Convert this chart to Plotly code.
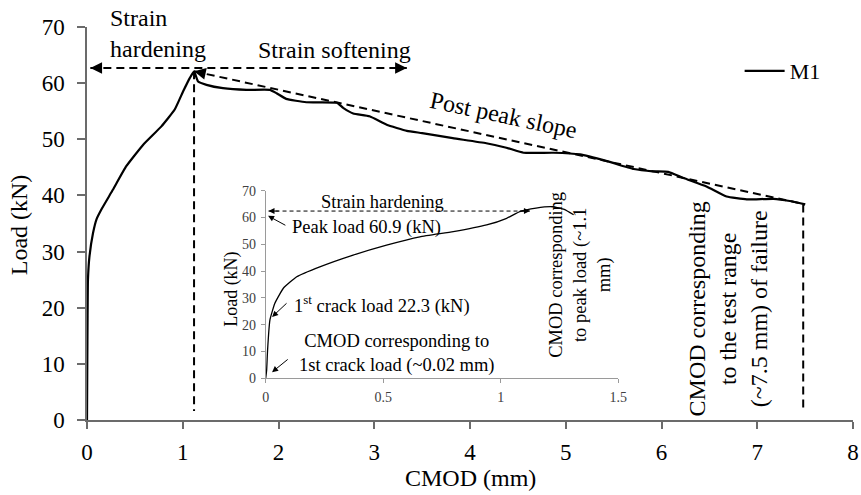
import plotly.graph_objects as go

# ---------------- data ----------------
cmod = [0, 0.003, 0.006, 0.01, 0.025, 0.063, 0.1, 0.15, 0.27, 0.41, 0.585, 0.777, 0.916,
        1.003, 1.073, 1.118, 1.16, 1.248, 1.42, 1.666, 1.909, 1.98, 2.08, 2.29, 2.61,
        2.675, 2.78, 2.95, 3.13, 3.34, 3.5, 3.82, 4.17, 4.38, 4.56, 4.87, 5.15, 5.43,
        5.71, 5.91, 6.07, 6.23, 6.47, 6.68, 6.89, 7.17, 7.34, 7.50]
load = [0, 10, 18, 25, 29, 33.3, 35.8, 37.5, 41.0, 45.2, 49.0, 52.3, 55.3,
        58.5, 60.9, 62.1, 60.3, 59.7, 59.1, 58.8, 58.8, 58.2, 57.2, 56.6, 56.5,
        55.6, 54.6, 54.1, 52.6, 51.5, 51.1, 50.2, 49.3, 48.5, 47.6, 47.6, 47.3, 46.1,
        44.7, 44.3, 44.2, 43.1, 41.6, 39.8, 39.3, 39.4, 39.0, 38.4]

inset_cmod = [0, 0.004, 0.008, 0.018, 0.039, 0.075, 0.132, 0.23, 0.372, 0.514, 0.656,
              0.798, 0.94, 1.025, 1.081, 1.15, 1.22, 1.27, 1.31]
inset_load = [0, 3, 10.6, 21.8, 28, 33.6, 37.9, 41.6, 46, 49.7, 52.8,
              54.7, 57.2, 59.7, 62.2, 63.5, 64.0, 63.0, 61.0]

x_ticks = [0, 1, 2, 3, 4, 5, 6, 7, 8]
y_ticks = [0, 10, 20, 30, 40, 50, 60, 70]
inset_x_ticks = [0, 0.5, 1, 1.5]
inset_x_labels = ["0", "0.5", "1", "1.5"]
inset_y_ticks = [0, 10, 20, 30, 40, 50, 60, 70]

peak_cmod, peak_load = 1.118, 62.1
end_cmod, end_load = 7.5, 38.4
fail_cmod = 7.48
arrow_load = 62.7
arrow_left, arrow_right = 0.035, 3.34
inset_arrow_load = 62.4
inset_arrow_left, inset_arrow_right = 0.012, 1.124

SERIF = "Liberation Serif, Times New Roman, serif"
AX = "#6b6b6b"
INAX = "#9a9a9a"

fig = go.Figure()

fig.add_trace(go.Scatter(x=cmod, y=load, mode="lines", name="M1",
                         line=dict(color="black", width=2.2, shape="spline", smoothing=0.4)))
fig.add_trace(go.Scatter(x=inset_cmod, y=inset_load, mode="lines", xaxis="x2", yaxis="y2",
                         showlegend=False,
                         line=dict(color="black", width=1.3, shape="spline", smoothing=0.4)))

dash_main = dict(color="black", width=2, dash="8px,5px")
# post-peak slope
fig.add_trace(go.Scatter(x=[peak_cmod, end_cmod], y=[peak_load, end_load], mode="lines",
                         line=dash_main, showlegend=False, hoverinfo="skip"))
# vertical dashed at peak
fig.add_trace(go.Scatter(x=[peak_cmod, peak_cmod], y=[peak_load, 1.6], mode="lines",
                         line=dash_main, showlegend=False, hoverinfo="skip"))
# vertical dashed at failure
fig.add_trace(go.Scatter(x=[fail_cmod, fail_cmod], y=[end_load, 1.5], mode="lines",
                         line=dash_main, showlegend=False, hoverinfo="skip"))
# horizontal arrow line
fig.add_trace(go.Scatter(x=[arrow_left, arrow_right], y=[arrow_load, arrow_load], mode="lines",
                         line=dash_main, showlegend=False, hoverinfo="skip"))
# inset dashed arrow line
fig.add_trace(go.Scatter(x=[inset_arrow_left, inset_arrow_right],
                         y=[inset_arrow_load, inset_arrow_load], mode="lines",
                         xaxis="x2", yaxis="y2",
                         line=dict(color="black", width=1, dash="4px,3px"),
                         showlegend=False, hoverinfo="skip"))

ann = []


def head(x, y, ax, ay, xr="x", yr="y", w=1.8, s=1.3):
    ann.append(dict(x=x, y=y, ax=ax, ay=ay, xref=xr, yref=yr, axref=xr, ayref=yr,
                    text="", showarrow=True, arrowhead=2, arrowsize=s, arrowwidth=w,
                    arrowcolor="black", standoff=0, startstandoff=0))


head(arrow_left, arrow_load, arrow_left + 0.12, arrow_load)
head(arrow_right, arrow_load, arrow_right - 0.12, arrow_load)
slope = (end_load - peak_load) / (end_cmod - peak_cmod)
head(peak_cmod, peak_load, peak_cmod + 0.12, peak_load + slope * 0.12)
head(inset_arrow_left, inset_arrow_load, inset_arrow_left + 0.05, inset_arrow_load, "x2", "y2", 1, 1.2)
head(inset_arrow_right, inset_arrow_load, inset_arrow_right - 0.05, inset_arrow_load, "x2", "y2", 1, 1.2)

MF = dict(family=SERIF, size=24, color="black")
IF = dict(family=SERIF, size=18.5, color="black")


def txt(text, x, y, font, xr="x", yr="y", xa="center", ya="middle", align="center", angle=0):
    ann.append(dict(text=text, x=x, y=y, xref=xr, yref=yr, xanchor=xa, yanchor=ya,
                    align=align, textangle=angle, showarrow=False, font=font))


txt("Strain<br>hardening", 0.216, 68.8, MF, xa="left", align="left")
txt("Strain softening", 2.59, 65.9, MF)
txt("Post peak slope", 4.345, 54.4, MF, angle=12)
txt("CMOD corresponding<br>to the test range<br>(~7.5 mm) of failure", 6.695, 19.7, MF, angle=-90)

# inset texts
txt("Strain hardening", 0.499, 65.8, IF, "x2", "y2")
txt("Peak load 60.9 (kN)", 0.104, 56.1, IF, "x2", "y2", xa="left", align="left")
txt("1<sup>st</sup> crack load 22.3 (kN)", 0.113, 27.4, IF, "x2", "y2", xa="left", align="left")
txt("CMOD corresponding to<br>1st crack load (~0.02 mm)", 0.558, 9.1, IF, "x2", "y2")
txt("CMOD corresponding<br>to peak load (~1.1<br>mm)", 1.336, 38.5, IF, "x2", "y2", angle=-90)
head(0.01, 60.6, 0.09, 56.8, "x2", "y2", 1, 1.2)
head(0.027, 22.9, 0.095, 28.5, "x2", "y2", 1, 1.2)
head(0.027, 2.3, 0.1, 7.5, "x2", "y2", 1, 1.2)

# axis titles
txt("Load (kN)", -0.0885, 0.496, MF, "paper", "paper", angle=-90)
txt("CMOD (mm)", 0.5, -0.1476, MF, "paper", "paper")
txt("Load (kN)", -0.0956, 33, dict(family=SERIF, size=18, color="black"), "x2 domain", "y2", angle=-90)
txt("CMOD <span style='font-size:14px'>(mm)</span>", 0.785, -14, dict(family=SERIF, size=17, color="black"), "x2", "y2")

fig.update_layout(
    template="none",
    width=861, height=495,
    margin=dict(l=87, r=8, t=27, b=75, autoexpand=False),
    paper_bgcolor="white", plot_bgcolor="white",
    font=dict(family=SERIF, color="black"),
    showlegend=True,
    legend=dict(x=0.852, y=0.888, xanchor="left", yanchor="middle",
                font=dict(family=SERIF, size=22, color="black"),
                bgcolor="rgba(0,0,0,0)", itemwidth=40),
    xaxis=dict(range=[0, 8], tickvals=x_ticks, showgrid=False, zeroline=False, automargin=False,
               showline=True, linecolor=AX, linewidth=1.5, ticks="outside", ticklen=7,
               tickcolor=AX, tickwidth=1.5, tickfont=dict(family=SERIF, size=23, color="black"),
               ticklabelstandoff=4),
    yaxis=dict(range=[0, 70], tickvals=y_ticks, showgrid=False, zeroline=False, automargin=False,
               showline=True, linecolor=AX, linewidth=1.5, ticks="outside", ticklen=8,
               tickcolor=AX, tickwidth=1.5, tickfont=dict(family=SERIF, size=23, color="black"),
               ticklabelstandoff=8),
    xaxis2=dict(domain=[0.2333, 0.6936], anchor="y2", range=[0, 1.5], tickvals=inset_x_ticks,
                ticktext=inset_x_labels, showgrid=False, zeroline=False, showline=True,
                automargin=False,
                linecolor=INAX, linewidth=1, ticks="outside", ticklen=4, tickcolor=INAX,
                tickfont=dict(family=SERIF, size=14, color="#404040"), ticklabelstandoff=2),
    yaxis2=dict(domain=[0.1061, 0.5835], anchor="x2", range=[0, 70], tickvals=inset_y_ticks,
                showgrid=False, zeroline=False, showline=True, automargin=False,
                linecolor=INAX, linewidth=1,
                ticks="outside", ticklen=4, tickcolor=INAX,
                tickfont=dict(family=SERIF, size=14, color="#404040"), ticklabelstandoff=2),
    annotations=ann,
)

fig.write_html("out.html", config={"displayModeBar": False},
               post_script="document.body.style.margin='0px';document.body.style.overflow='hidden';")
